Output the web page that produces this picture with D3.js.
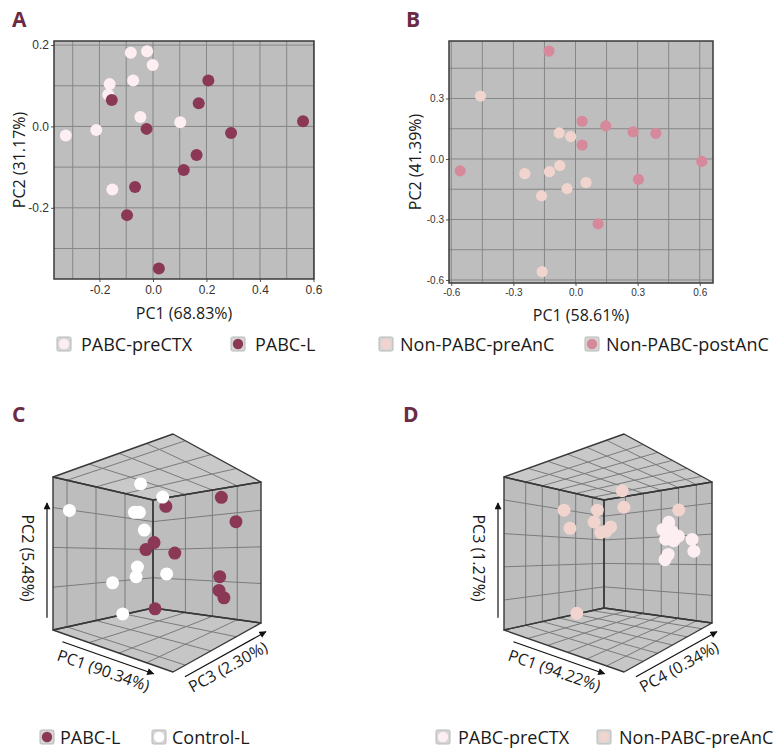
<!DOCTYPE html>
<html>
<head>
<meta charset="utf-8">
<script src="https://d3js.org/d3.v7.min.js"></script>
<style>
  body { margin: 0; background: #fff; }
  svg { display: block; }
  text { font-family: "Open Sans", sans-serif; fill: #1a1a1a; }
  .tick text { font-family: "Liberation Sans", Arial, sans-serif; fill: #333; }
</style>
</head>
<body>
<svg width="776" height="753"></svg>
<script>
// A: [PC1, PC2]
const aPreCTX = [[-0.083, 0.181], [-0.022, 0.185], [-0.001, 0.151], [-0.162, 0.104], [-0.074, 0.113],
                 [-0.167, 0.078], [-0.047, 0.023], [0.102, 0.010], [-0.212, -0.009], [-0.326, -0.022],
                 [-0.152, -0.155]];
const aPabcL = [[0.207, 0.113], [0.171, 0.057], [-0.154, 0.065], [0.561, 0.013], [-0.024, -0.006],
                [0.292, -0.016], [0.163, -0.070], [0.115, -0.107], [-0.067, -0.149], [-0.097, -0.218],
                [0.022, -0.349]];

// B: [PC1, PC2]
const bPreAnC = [[-0.459, 0.312], [-0.079, 0.129], [-0.023, 0.111], [-0.245, -0.073], [-0.126, -0.063],
                 [-0.076, -0.033], [-0.041, -0.147], [0.051, -0.117], [-0.164, -0.183], [-0.161, -0.559]];
const bPostAnC = [[-0.128, 0.535], [0.032, 0.187], [0.146, 0.164], [0.278, 0.135], [0.388, 0.127],
                  [0.032, 0.069], [0.610, -0.012], [-0.557, -0.059], [0.304, -0.101], [0.109, -0.322]];

// C: [PC1, PC2, PC3]
const cPabcL = [[11.8, 27, -8.2], [34.5, 35, 24.5], [41.8, 20, 31.8], [7.9, 6, -16.1], [6.7, 2, -23.3],
                [17.9, 0, -6.1], [33.7, -15, 23.7], [36, -23, 20], [34, -29, 28], [6.6, -32, -13.4]];
const cControlL = [[-13.8, 45, -3.8], [14.7, 31, -15.3], [-39.8, 27, -45.8], [-7.7, 24.5, -17.7],
                   [-14.4, 26.6, -4.4], [-7.5, 14.5, -7.5], [-3.6, -8, -19.6], [-18.7, -15.5, -2.7],
                   [3.2, -13, 3.2], [-13.5, -17, -33.5], [-4.3, -33.5, -34.3]];

// D: [PC1, PC3, PC4]
const dPreCTX = [[33.6, 19, 21.6], [34.3, 14, 14.3], [33.5, 13.5, 25.5], [33, 11, 33], [37.4, 8, 13.4],
                 [37, 7.5, 23], [39.9, 9, 39.9], [38.1, 1, 44.1], [35.1, -1, 19.1], [37.1, -4, 13.1]];
const dNonPreAnC = [[-22.3, 27, -22.3], [-15, 15, -25], [-11.1, 28, -1.1], [-5.4, 19, -11.4], [-4.9, 13, -4.9],
                    [3, 13, -9], [-3.8, 17, 4.2], [9.9, 37.6, -0.1], [13.4, 27, -2.6], [35, 28, 31],
                    [-7.3, -34.5, -27.3]];

// tick labels and grid steps
const ticksAx = [-0.2, 0.0, 0.2, 0.4, 0.6];
const ticksAy = [-0.2, 0.0, 0.2];
const ticksBx = [-0.6, -0.3, 0.0, 0.3, 0.6];
const ticksBy = [-0.6, -0.3, 0.0, 0.3];
const gridC = { u: [-20, 5, 28], v: [-22, 4, 30], w: [-36, -7, 22] };
const gridD = { u: [-30, -13.5, 3, 19, 35.5], v: [-30.4, -8.7, 13, 35], w: [-28.3, -11.7, 5, 21.7, 38.3] };

const colors = {
    pabcL: "#8b3857",
    preCTX: "#fdeef1",
    preAnC: "#f1d4ce",
    postAnC: "#d6899b",
    controlL: "#ffffff"
};

const svg = d3.select("svg");
svg.append("rect").attr("width", 776).attr("height", 753).attr("fill", "#fff");

const defs = svg.append("defs");
defs.append("marker")
    .attr("id", "arrow")
    .attr("viewBox", "0 0 10 10")
    .attr("refX", 9).attr("refY", 5)
    .attr("markerUnits", "userSpaceOnUse")
    .attr("markerWidth", 8).attr("markerHeight", 7)
    .attr("orient", "auto")
    .append("path").attr("d", "M0,0 L10,5 L0,10 z").attr("fill", "#111");

const fmt = d => d.toFixed(1);

function panelLetter(txt, x, y) {
    svg.append("text").attr("x", x).attr("y", y).text(txt)
        .style("font-size", "21px").style("font-weight", "bold").style("fill", "#6b2b44");
}

function drawScatter(cfg) {
    const g = svg.append("g");
    const x = d3.scaleLinear().domain(cfg.xDomain).range([cfg.left, cfg.right]);
    const y = d3.scaleLinear().domain(cfg.yDomain).range([cfg.bottom, cfg.top]);

    g.append("rect")
        .attr("x", cfg.left).attr("y", cfg.top)
        .attr("width", cfg.right - cfg.left).attr("height", cfg.bottom - cfg.top)
        .attr("fill", "#bebebe");

    // grid
    g.selectAll(".gx").data(cfg.gridX).enter().append("line")
        .attr("x1", d => x(d)).attr("x2", d => x(d))
        .attr("y1", cfg.top).attr("y2", cfg.bottom)
        .attr("stroke", "#878787").attr("stroke-width", 1);
    g.selectAll(".gy").data(cfg.gridY).enter().append("line")
        .attr("y1", d => y(d)).attr("y2", d => y(d))
        .attr("x1", cfg.left).attr("x2", cfg.right)
        .attr("stroke", "#878787").attr("stroke-width", 1);

    const ax = g.append("g")
        .attr("transform", `translate(0, ${cfg.bottom})`)
        .call(d3.axisBottom(x).tickValues(cfg.xTicks).tickFormat(fmt).tickSize(3).tickPadding(3));
    const ay = g.append("g")
        .attr("transform", `translate(${cfg.left}, 0)`)
        .call(d3.axisLeft(y).tickValues(cfg.yTicks).tickFormat(fmt).tickSize(3).tickPadding(2));
    [ax, ay].forEach(a => {
        a.select(".domain").remove();
        a.selectAll("line").attr("stroke", "#555");
        a.selectAll("text").style("font-size", cfg.tickFont + "px");
    });

    g.append("rect")
        .attr("x", cfg.left).attr("y", cfg.top)
        .attr("width", cfg.right - cfg.left).attr("height", cfg.bottom - cfg.top)
        .attr("fill", "none").attr("stroke", "#3a3a3a").attr("stroke-width", 1.5);

    cfg.series.forEach(s => {
        g.selectAll(null).data(s.data).enter().append("circle")
            .attr("cx", d => x(d[0]))
            .attr("cy", d => y(d[1]))
            .attr("r", cfg.r)
            .attr("fill", s.color);
    });

    g.append("text")
        .attr("x", (cfg.left + cfg.right) / 2).attr("y", cfg.xTitleY)
        .attr("text-anchor", "middle").attr("dominant-baseline", "central")
        .style("font-size", "16px").text(cfg.xTitle);
    g.append("text")
        .attr("transform", `translate(${cfg.yTitleX}, ${(cfg.top + cfg.bottom) / 2}) rotate(-90)`)
        .attr("text-anchor", "middle").attr("dominant-baseline", "central")
        .style("font-size", "16px").text(cfg.yTitle);
}

// box corners on screen: order (u0,w0) (u0,w1) (u1,w0) (u1,w1)
const box = { x: [53, 153, 173, 261], yF: [630, 608, 672, 623], yT: [477, 500, 434, 482] };

function project(u, v, w, dx) {
    const bil = c => c[0] * (1 - u) * (1 - w) + c[1] * (1 - u) * w + c[2] * u * (1 - w) + c[3] * u * w;
    const yF = bil(box.yF), yT = bil(box.yT);
    return [bil(box.x) + dx, yF + (yT - yF) * v];
}

function drawCube(cfg) {
    const g = svg.append("g");
    const s = d3.scaleLinear().domain([-50, 50]).range([0, 1]);
    const P = (u, v, w) => project(u, v, w, cfg.dx);

    const faces = [
        { pts: [[0, 0, 0], [0, 0, 1], [0, 1, 1], [0, 1, 0]], fill: "#bdbdbd" },
        { pts: [[0, 0, 1], [1, 0, 1], [1, 1, 1], [0, 1, 1]], fill: "#bdbdbd" },
        { pts: [[0, 0, 0], [1, 0, 0], [1, 0, 1], [0, 0, 1]], fill: "#c6c6c6" },
        { pts: [[0, 1, 0], [1, 1, 0], [1, 1, 1], [0, 1, 1]], fill: "#c9c9c9" }
    ];
    const poly = f => f.pts.map(p => P(...p).join(",")).join(" ");

    g.selectAll(".face").data(faces).enter().append("polygon")
        .attr("points", poly).attr("fill", d => d.fill);

    const uT = cfg.grid.u.map(s), vT = cfg.grid.v.map(s), wT = cfg.grid.w.map(s);
    const segs = [];
    wT.forEach(w => { segs.push([[0, 0, w], [0, 1, w]]); segs.push([[0, 0, w], [1, 0, w]]); segs.push([[0, 1, w], [1, 1, w]]); });
    vT.forEach(v => { segs.push([[0, v, 0], [0, v, 1]]); segs.push([[0, v, 1], [1, v, 1]]); });
    uT.forEach(u => { segs.push([[u, 0, 1], [u, 1, 1]]); segs.push([[u, 0, 0], [u, 0, 1]]); segs.push([[u, 1, 0], [u, 1, 1]]); });

    g.selectAll(".grid").data(segs).enter().append("line")
        .attr("x1", d => P(...d[0])[0]).attr("y1", d => P(...d[0])[1])
        .attr("x2", d => P(...d[1])[0]).attr("y2", d => P(...d[1])[1])
        .attr("stroke", "#7b7b7b").attr("stroke-width", 1);

    g.selectAll(".edge").data(faces).enter().append("polygon")
        .attr("points", poly).attr("fill", "none")
        .attr("stroke", "#383838").attr("stroke-width", 1.4).attr("stroke-linejoin", "round");

    // points, far ones first
    const pts = [];
    cfg.series.forEach(se => se.data.forEach(d => {
        pts.push({ u: s(d[0]), v: s(d[1]), w: s(d[2]), color: se.color });
    }));
    pts.sort((a, b) => (a.u - a.w) - (b.u - b.w));
    g.selectAll(".pt").data(pts).enter().append("circle")
        .attr("cx", d => P(d.u, d.v, d.w)[0])
        .attr("cy", d => P(d.u, d.v, d.w)[1])
        .attr("r", 6.5)
        .attr("fill", d => d.color);

    // axis arrows
    const arrow = (a, b) => g.append("line")
        .attr("x1", a[0]).attr("y1", a[1]).attr("x2", b[0]).attr("y2", b[1])
        .attr("stroke", "#111").attr("stroke-width", 1.2).attr("marker-end", "url(#arrow)");
    const add = (p, o) => [p[0] + o[0], p[1] + o[1]];

    const offV = [-6, 0], offU = [-2.6, 7.6], offW = [4.9, 8.7];
    arrow(add(P(0, 0.08, 0), offV), add(P(0, 0.83, 0), offV));
    arrow(add(P(0.1, 0, 0), offU), add(P(0.86, 0, 0), offU));
    arrow(add(P(1, 0, 0.08), offW), add(P(1, 0, 1), offW));

    const label = (pos, angle, txt) => g.append("text")
        .attr("transform", `translate(${pos[0]}, ${pos[1]}) rotate(${angle})`)
        .attr("text-anchor", "middle").attr("dominant-baseline", "central")
        .style("font-size", "16px").text(txt);

    label(add(P(0, 0.47, 0), [-25, 0]), 90, cfg.labels[1]);
    label(add(P(0.48, 0, 0), [-7, 20]), 19.3, cfg.labels[0]);
    label(add(P(1, 0, 0.5), [10.8, 19.1]), -29.1, cfg.labels[2]);
}

function drawLegend(items, y, gap) {
    const g = svg.append("g");
    items.forEach(it => {
        g.append("rect")
            .attr("x", it.x).attr("y", y - 7).attr("width", 14).attr("height", 14).attr("rx", 1.5)
            .attr("fill", "#d6d6d6").attr("stroke", "#b8b8b8");
        g.append("circle")
            .attr("cx", it.x + 7).attr("cy", y).attr("r", 5.2).attr("fill", it.color);
        g.append("text")
            .attr("x", it.x + 14 + gap).attr("y", y)
            .attr("dominant-baseline", "central")
            .style("font-size", "18px").text(it.label);
    });
}

// A
panelLetter("A", 12, 27);
drawScatter({
    left: 54, right: 314, top: 41, bottom: 279,
    xDomain: [-0.37, 0.602], yDomain: [-0.375, 0.21],
    xTicks: ticksAx, yTicks: ticksAy,
    gridX: d3.range(-3, 7).map(d => d / 10), gridY: d3.range(-3, 3).map(d => d / 10),
    tickFont: 12, r: 6,
    series: [{ data: aPreCTX, color: colors.preCTX }, { data: aPabcL, color: colors.pabcL }],
    xTitle: "PC1 (68.83%)", xTitleY: 313,
    yTitle: "PC2 (31.17%)", yTitleX: 19
});

// B
panelLetter("B", 406, 27);
drawScatter({
    left: 449, right: 713, top: 41, bottom: 283,
    xDomain: [-0.611, 0.664], yDomain: [-0.615, 0.585],
    xTicks: ticksBx, yTicks: ticksBy,
    gridX: d3.range(-4, 5).map(d => d * 0.15), gridY: d3.range(-4, 4).map(d => d * 0.15),
    tickFont: 10, r: 5.6,
    series: [{ data: bPreAnC, color: colors.preAnC }, { data: bPostAnC, color: colors.postAnC }],
    xTitle: "PC1 (58.61%)", xTitleY: 315,
    yTitle: "PC2 (41.39%)", yTitleX: 415
});

drawLegend([{ x: 57, label: "PABC-preCTX", color: colors.preCTX },
            { x: 231, label: "PABC-L", color: colors.pabcL }], 344, 10);
drawLegend([{ x: 379, label: "Non-PABC-preAnC", color: colors.preAnC },
            { x: 585, label: "Non-PABC-postAnC", color: colors.postAnC }], 344, 7);

// C
panelLetter("C", 12, 422);
drawCube({
    dx: 0, grid: gridC,
    series: [{ data: cPabcL, color: colors.pabcL }, { data: cControlL, color: colors.controlL }],
    labels: ["PC1 (90.34%)", "PC2 (5.48%)", "PC3 (2.30%)"]
});

// D
panelLetter("D", 403, 422);
drawCube({
    dx: 451, grid: gridD,
    series: [{ data: dNonPreAnC, color: colors.preAnC }, { data: dPreCTX, color: colors.preCTX }],
    labels: ["PC1 (94.22%)", "PC3 (1.27%)", "PC4 (0.34%)"]
});

drawLegend([{ x: 40, label: "PABC-L", color: colors.pabcL },
            { x: 152, label: "Control-L", color: colors.controlL }], 737, 6);
drawLegend([{ x: 436, label: "PABC-preCTX", color: colors.preCTX },
            { x: 597, label: "Non-PABC-preAnC", color: colors.preAnC }], 737, 8);
</script>
</body>
</html>
